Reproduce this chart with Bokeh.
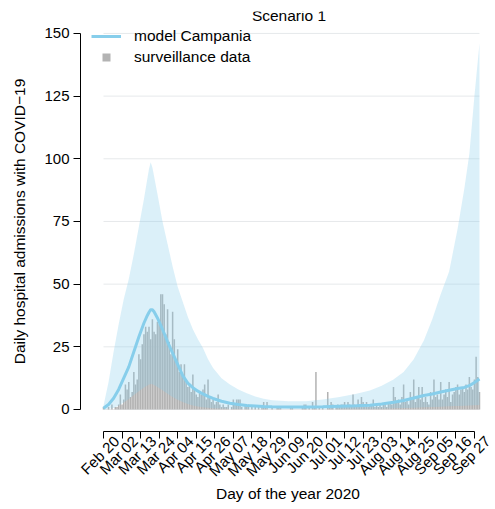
import math
import pandas as pd
from bokeh.plotting import figure
from bokeh.models import (FixedTicker, Range1d, Legend, LegendItem, Label,
                          LinearAxis)
from bokeh.embed import file_html
from bokeh.resources import INLINE

FONT = "Liberation Sans"

# ---- data -------------------------------------------------------------
start_date = "2020-02-20"

tick_labels = ["Feb 20", "Mar 02", "Mar 13", "Mar 24", "Apr 04", "Apr 15", "Apr 26",
               "May 07", "May 18", "May 29", "Jun 09", "Jun 20", "Jul 01", "Jul 12",
               "Jul 23", "Aug 03", "Aug 14", "Aug 25", "Sep 05", "Sep 16", "Sep 27"]
y_ticks = [0, 25, 50, 75, 100, 125, 150]

# daily hospital admissions (surveillance), one value per day from Feb 20
surveillance = [
    1, 0, 0, 1, 0, 2, 0, 1, 1, 2,
    6, 2, 4, 10, 8, 11, 5, 7, 15, 10,
    12, 22, 20, 26, 30, 33, 31, 33, 28, 36,
    31, 30, 35, 34, 46, 46, 42, 30, 40, 27,
    22, 39, 28, 20, 24, 15, 18, 13, 18, 12,
    9, 10, 7, 14, 8, 6, 5, 7, 6, 8,
    10, 4, 12, 5, 3, 4, 2, 3, 6, 2,
    1, 2, 1, 1, 2, 0, 1, 4, 2, 4,
    4, 4, 1, 0, 2, 1, 2, 0, 1, 0,
    1, 0, 1, 0, 1, 3, 1, 3, 0, 0,
    1, 0, 0, 1, 1, 1, 0, 0, 0, 0,
    0, 1, 1, 0, 0, 0, 0, 0, 1, 2,
    2, 0, 1, 0, 3, 1, 15, 0, 1, 0,
    1, 0, 0, 7, 1, 3, 2, 0, 1, 2,
    1, 2, 2, 3, 1, 3, 2, 1, 6, 2,
    1, 4, 2, 5, 3, 1, 3, 1, 2, 2,
    4, 1, 2, 1, 2, 1, 2, 2, 1, 3,
    3, 2, 9, 5, 3, 4, 2, 5, 10, 3,
    4, 2, 7, 4, 12, 3, 5, 9, 4, 9,
    3, 5, 3, 2, 7, 4, 12, 5, 6, 4,
    11, 4, 6, 8, 5, 11, 3, 6, 7, 9,
    10, 6, 8, 9, 7, 10, 8, 13, 9, 8,
    12, 21, 13, 7,
]

# model output (days since Feb 20): mean and uncertainty band
model_day = [0, 3, 6, 9, 12, 15, 18, 21, 24, 26,
             27, 28, 29, 30, 32, 35, 38, 41, 44, 47,
             50, 53, 56, 59, 62, 65, 70, 75, 80, 85,
             90, 95, 100, 110, 120, 130, 140, 150, 158, 165,
             172, 178, 184, 190, 195, 200, 205, 210, 214, 217,
             220, 223]
model_mean = [0.5, 2.0, 4.5, 8.0, 12.5, 17.0, 23.0, 29.0, 34.5, 37.5,
              38.8, 39.8, 39.8, 39.0, 36.5, 32.0, 27.0, 22.5, 18.0, 13.5,
              10.5, 8.7, 7.3, 6.2, 5.2, 4.4, 3.3, 2.5, 2.0, 1.6,
              1.4, 1.2, 1.1, 1.0, 1.0, 1.1, 1.3, 1.5, 1.7, 2.2,
              2.9, 3.6, 4.6, 5.6, 6.2, 7.0, 7.7, 8.4, 8.8, 9.5,
              10.8, 12.2]
model_lower = [0.0, 0.2, 0.6, 1.5, 2.8, 4.2, 5.8, 7.3, 8.8, 9.6,
               10.0, 10.2, 10.1, 9.8, 9.0, 7.7, 6.3, 5.0, 3.9, 3.0,
               2.2, 1.6, 1.2, 0.9, 0.7, 0.5, 0.4, 0.3, 0.3, 0.2,
               0.2, 0.2, 0.2, 0.2, 0.2, 0.2, 0.2, 0.3, 0.3, 0.4,
               0.5, 0.6, 0.7, 0.9, 1.0, 1.1, 1.3, 1.4, 1.5, 1.6,
               1.7, 1.8]
model_upper = [1.5, 11, 23, 34, 44, 52, 62, 73, 84, 92,
               96, 98.6, 96.5, 93, 86, 75, 66, 57, 49, 43,
               37, 32, 28, 24.5, 20, 16.5, 12.5, 10, 8, 6.5,
               5.2, 4.3, 3.7, 3.3, 3.3, 4.0, 5.0, 6.3, 7.6, 9.5,
               12, 15, 20, 27.5, 36, 46, 55, 72, 88, 102,
               125, 146]

days = list(range(len(surveillance)))
origin = pd.Timestamp(start_date)
tick_pos = [(pd.Timestamp(f"{lbl} 2020") - origin).days for lbl in tick_labels]

# ---- figure -----------------------------------------------------------
x_lo, x_hi = -13.64, 232.5
y_lo, y_hi = -8.78, 158.75
p = figure(width=495, height=509, output_backend="svg", toolbar_location=None,
           x_range=Range1d(x_lo, x_hi), y_range=Range1d(y_lo, y_hi),
           min_border_left=80, min_border_right=0, min_border_top=11,
           min_border_bottom=78)
p.outline_line_color = None
p.xgrid.visible = False
p.ygrid.visible = False

# light horizontal guides spanning the data period
p.segment(x0=days[0], x1=days[-1], y0=y_ticks, y1=y_ticks,
          line_color="#e6e9eb", line_width=1)

bars = p.vbar(x=days, top=surveillance, width=0.9,
              fill_color="#b3b3b3", line_color=None)
p.varea(x=model_day, y1=model_lower, y2=model_upper,
        fill_color="#87ceeb", fill_alpha=0.3)
line_r = p.line(model_day, model_mean, line_color="#87ceeb", line_width=3)

# marker used only for the legend entry of the surveillance bars
sq = p.scatter(x=[float("nan")], y=[float("nan")], marker="square", size=8,
               fill_color="#b3b3b3", line_color=None)

legend = Legend(items=[LegendItem(label="model Campania", renderers=[line_r]),
                       LegendItem(label="surveillance data", renderers=[sq])],
                location=(11, 364), margin=0, padding=4, spacing=1,
                glyph_width=30, glyph_height=20, label_height=20,
                label_standoff=13, label_text_font=FONT,
                label_text_font_size="15.5px", label_text_color="#000000",
                border_line_color=None, background_fill_alpha=0)
p.add_layout(legend)

p.add_layout(Label(x=(tick_pos[0] + tick_pos[-1]) / 2, y=y_hi - 1.6,
                   text="Scenario 1", text_align="center",
                   text_baseline="middle", text_font=FONT,
                   text_font_size="15.5px", text_color="#000000"))

# ---- axes -------------------------------------------------------------
def style_axis(ax):
    ax.axis_line_color = "#000000"
    ax.major_tick_line_color = "#000000"
    ax.major_tick_out = 7
    ax.major_tick_in = 0
    ax.minor_tick_out = 0
    ax.minor_tick_in = 0
    ax.major_label_text_font = FONT
    ax.major_label_text_color = "#000000"
    ax.major_label_text_font_size = "15px"
    ax.axis_label_text_font = FONT
    ax.axis_label_text_font_style = "normal"
    ax.axis_label_text_font_size = "15.5px"
    ax.axis_label_text_color = "#000000"

yax = p.yaxis[0]
style_axis(yax)
yax.ticker = FixedTicker(ticks=y_ticks)
yax.bounds = (y_ticks[0], y_ticks[-1])
yax.major_label_standoff = 4
yax.axis_label = "Daily hospital admissions with COVID\u221219"
yax.axis_label_standoff = 13

# date axis: ticks on the main scale ...
xax = p.xaxis[0]
style_axis(xax)
xax.ticker = FixedTicker(ticks=tick_pos)
xax.bounds = (tick_pos[0], tick_pos[-1])
xax.major_label_standoff = 1
xax.major_label_text_color = None

# ... and slanted date labels on a companion scale, so that each label sits
# centred under its tick
label_shift = 13 / ((p.width - 80) / (x_hi - x_lo))
p.extra_x_ranges = {"dates": Range1d(x_lo - label_shift, x_hi - label_shift)}
xlab = LinearAxis(x_range_name="dates")
style_axis(xlab)
xlab.ticker = FixedTicker(ticks=tick_pos)
xlab.major_label_overrides = {pos: lbl for pos, lbl in zip(tick_pos, tick_labels)}
xlab.major_label_orientation = math.pi / 4
xlab.major_label_standoff = 0
xlab.axis_line_color = None
xlab.major_tick_line_color = None
xlab.major_tick_out = 0
xlab.axis_label = "Day of the year 2020"
xlab.axis_label_standoff = -3
p.add_layout(xlab, "below")

open("out.html", "w").write(file_html(p, INLINE))
